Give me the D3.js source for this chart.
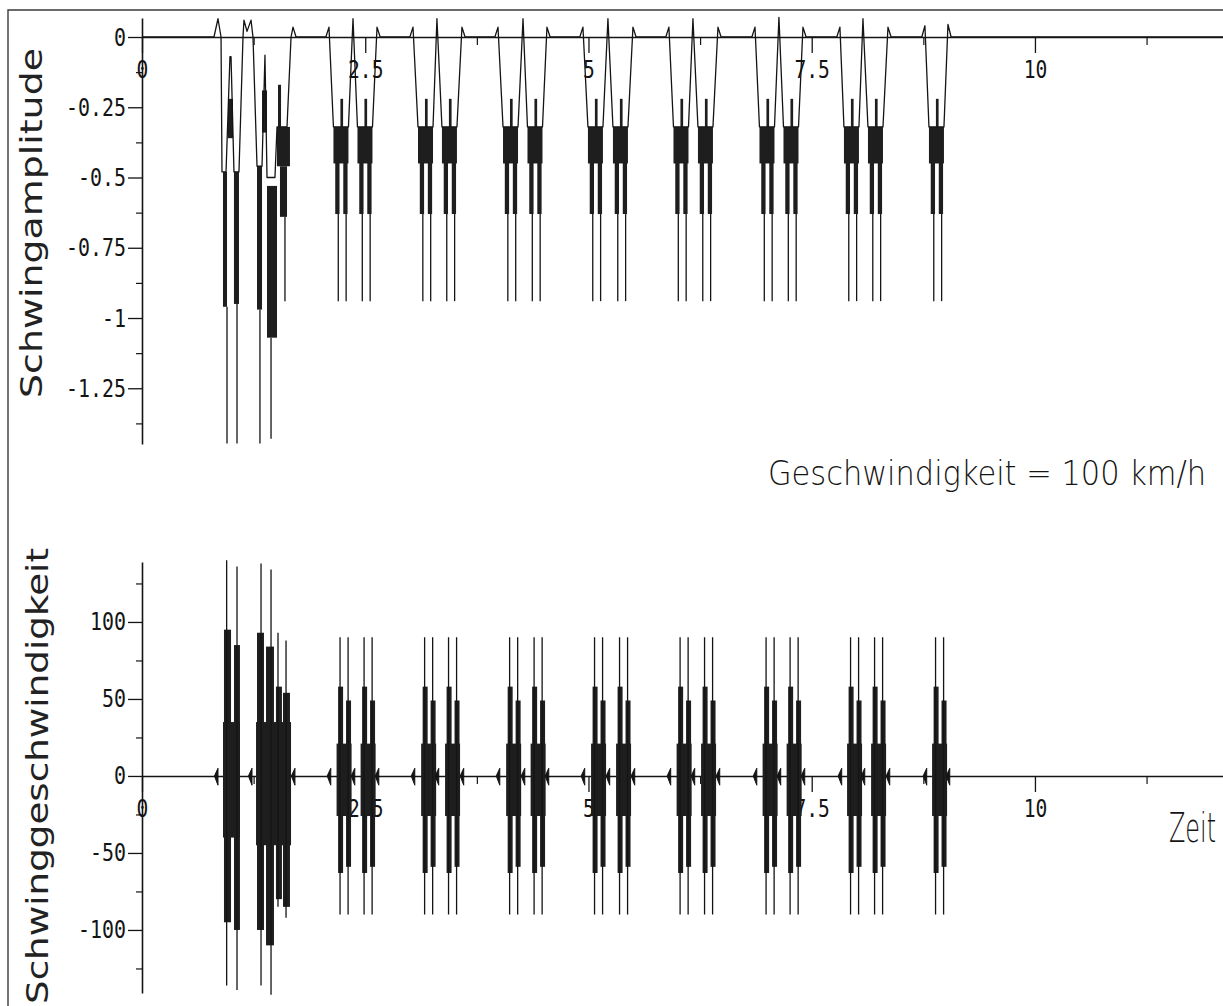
<!DOCTYPE html>
<html><head><meta charset="utf-8">
<script src="https://cdn.jsdelivr.net/npm/d3@7"></script>
<style>body{margin:0;background:#fff}svg{display:block}</style>
</head><body>
<svg id="c" width="1223" height="1006"></svg>
<script>
// ---------- DATA ----------
const xTicksMajor = [0, 2.5, 5, 7.5, 10];
const xTickLabels = ["0", "2.5", "5", "7.5", "10"];
const xTicksMinor = [1.25, 3.75, 6.25, 8.75, 11.25];
const ampTicks = [0, -0.25, -0.5, -0.75, -1, -1.25];
const ampTickLabels = ["0", "-0.25", "-0.5", "-0.75", "-1", "-1.25"];
const ampMinor = [-0.125, -0.375, -0.625, -0.875, -1.125, -1.375];
const velTicks = [100, 50, 0, -50, -100];
const velTickLabels = ["100", "50", "0", "-50", "-100"];
const velMinor = [125, 75, 25, -25, -75, -125];

// Schwingamplitude: first (irregular) group, traced outline [t, value]
const ampStartTrace = [[0.806,0],[0.851,0.065],[0.885,0],[0.896,-0.48],[0.941,-0.48],[0.985,-0.07],[0.997,-0.07],
  [1.030,-0.48],[1.086,-0.48],[1.131,0],[1.142,0.06],[1.176,0.02],[1.221,0.06],[1.243,0],[1.288,-0.46],[1.344,-0.46],
  [1.377,-0.065],[1.400,-0.5],[1.489,-0.5],[1.512,-0.32],[1.624,-0.32],[1.669,0],[1.691,0.035],[1.725,0]];
// dense oscillation regions [t0, t1, vTop, vBottom]
const ampStartBands = [[0.907,0.952,-0.48,-0.96],[0.963,1.019,-0.22,-0.36],[1.030,1.086,-0.48,-0.95],
  [1.288,1.344,-0.46,-0.97],[1.344,1.400,-0.19,-0.34],[1.400,1.512,-0.53,-1.07],[1.512,1.657,-0.32,-0.46],
  [1.523,1.557,-0.17,-0.32],[1.545,1.624,-0.46,-0.64]];
// single extreme strokes [t, vTop, vBottom]
const ampStartLines = [[0.952,-0.96,-1.447],[1.064,-0.95,-1.447],[1.321,-0.97,-1.447],[1.445,-1.07,-1.43],[1.601,-0.64,-0.94]];
// regular groups: peak tips [t, value] and burst centres
const ampPeaks = [[2.094,0.035],[2.363,0.065],[2.632,0.035],[3.035,0.035],[3.303,0.065],[3.583,0.035],
  [3.987,0.035],[4.267,0.065],[4.535,0.035],[4.938,0.035],[5.218,0.065],[5.498,0.035],
  [5.901,0.035],[6.170,0.065],[6.450,0.035],[6.865,0.035],[7.133,0.07],[7.402,0.035],
  [7.816,0.035],[8.074,0.065],[8.354,0.035],[8.768,0.04],[9.026,0.045]];
const ampBlocks = [2.228,2.497,3.175,3.443,4.127,4.401,5.078,5.358,6.036,6.310,6.999,7.268,7.945,8.214,8.897];
const ampSpikeTop = -0.22, ampBandTop = -0.32, ampBandBottom = -0.45, ampLegBottom = -0.63, ampLineBottom = -0.94;

// Schwinggeschwindigkeit
const velStartBands = [[0.907,1.097,35,-40],[0.918,0.997,95,-95],[1.030,1.097,85,-100],[1.277,1.669,35,-45],
  [1.288,1.366,93,-100],[1.389,1.478,84,-110],[1.500,1.567,58,-80],[1.579,1.657,54,-85]];
const velStartLines = [[0.948,140,-136],[1.064,136,-139],[1.333,138,-136],[1.445,134,-142],[1.523,93,-85],[1.613,88,-92]];
const velBlocks = [2.263,2.532,3.210,3.478,4.162,4.436,5.113,5.393,6.071,6.345,7.034,7.303,7.980,8.249,8.932];
const velBlips = [0.851,1.232,1.713,2.114,2.383,2.652,3.055,3.323,3.603,4.007,4.287,4.555,4.958,5.238,5.518,
  5.921,6.190,6.470,6.885,7.153,7.422,7.836,8.094,8.374,8.788,9.046];
const velBandTop = 21, velBandBottom = -26, velLegLTop = 58, velLegLBottom = -63, velLegRTop = 49, velLegRBottom = -59, velSpike = 90;

// ---------- DRAW ----------
const ink = "#141414";
const svg = d3.select("#c");
const x = d3.scaleLinear().domain([0, 12.106]).range([142, 1223]);
const yA = d3.scaleLinear().domain([0.068, -1.448]).range([17.9, 443.9]);
const yV = d3.scaleLinear().domain([139, -141]).range([561.9, 993.1]);
const mono = "'DejaVu Sans Mono', 'Liberation Mono', monospace";
const sans = "'DejaVu Sans', 'Noto Sans', sans-serif";

// frame
svg.append("path").attr("d", "M8,1006V10H1223").attr("fill", "none").attr("stroke", "#3a3a3a").attr("stroke-width", 1.4);

function styleAxis(g, charW) {
  g.select(".domain").attr("stroke", ink).attr("stroke-width", 1.6);
  g.selectAll(".tick line").attr("stroke", ink).attr("stroke-width", 1.3);
  g.selectAll(".tick text").attr("fill", ink).style("font-family", mono).style("font-size", "25px")
    .attr("textLength", function () { return this.textContent.length * charW; })
    .attr("lengthAdjust", "spacingAndGlyphs");
}

function panel(y, ticks, labels, minor) {
  const gx = svg.append("g").attr("transform", `translate(0,${y(0)})`)
    .call(d3.axisBottom(x).tickValues(xTicksMajor).tickSizeInner(16).tickSizeOuter(0).tickPadding(7)
      .tickFormat((d, i) => xTickLabels[i]));
  styleAxis(gx, 11.8);
  gx.selectAll(".tick text").attr("dy", "0.71em");
  const gxm = svg.append("g").attr("transform", `translate(0,${y(0)})`)
    .call(d3.axisBottom(x).tickValues(xTicksMinor).tickSizeInner(8).tickSizeOuter(0).tickFormat(""));
  gxm.select(".domain").remove();
  gxm.selectAll(".tick line").attr("stroke", ink).attr("stroke-width", 1.2);
  const gy = svg.append("g").attr("transform", "translate(142,0)")
    .call(d3.axisLeft(y).tickValues(ticks).tickSizeInner(14).tickSizeOuter(0).tickPadding(2)
      .tickFormat((d, i) => labels[i]));
  styleAxis(gy, 12);
  const gym = svg.append("g").attr("transform", "translate(142,0)")
    .call(d3.axisLeft(y).tickValues(minor).tickSizeInner(6).tickSizeOuter(0).tickFormat(""));
  gym.select(".domain").remove();
  gym.selectAll(".tick line").attr("stroke", ink).attr("stroke-width", 1.2);
}
panel(yA, ampTicks, ampTickLabels, ampMinor);
panel(yV, velTicks, velTickLabels, velMinor);

// ---- amplitude trace ----
const events = ampPeaks.map(p => ({ t: p[0], v: p[1], k: "p" }))
  .concat(ampBlocks.map(c => ({ t: c, k: "b" }))).sort((a, b) => a.t - b.t);
const ampTrace = [[0, 0]].concat(ampStartTrace);
events.forEach((e, i) => {
  const prev = events[i - 1], next = events[i + 1];
  if (e.k === "p") {
    if (!prev || prev.k === "p") ampTrace.push([e.t - 0.035, 0]);
    ampTrace.push([e.t, e.v]);
    if (!next || next.k === "p") ampTrace.push([e.t + 0.035, 0]);
  } else {
    ampTrace.push([e.t - 0.084, ampBandTop], [e.t + 0.084, ampBandTop]);
  }
});
ampTrace.push([12.106, 0]);

const ampBands = ampStartBands.slice();
const ampLines = ampStartLines.slice();
ampBlocks.forEach(c => {
  ampBands.push([c - 0.084, c + 0.084, ampBandTop, ampBandBottom]);
  ampBands.push([c - 0.064, c - 0.016, ampBandBottom + 0.02, ampLegBottom]);
  ampBands.push([c + 0.026, c + 0.074, ampBandBottom + 0.02, ampLegBottom]);
  ampBands.push([c - 0.006, c + 0.024, ampSpikeTop, ampBandTop]);
  ampLines.push([c - 0.03, ampLegBottom, ampLineBottom]);
  ampLines.push([c + 0.058, ampLegBottom, ampLineBottom]);
});

function drawBands(bands, y) {
  svg.append("g").selectAll("rect").data(bands).join("rect")
    .attr("x", d => x(d[0])).attr("width", d => x(d[1]) - x(d[0]))
    .attr("y", d => y(d[2])).attr("height", d => y(d[3]) - y(d[2]))
    .attr("fill", "#1e1e1e");
}
function drawLines(lines, y) {
  svg.append("g").selectAll("line").data(lines).join("line")
    .attr("x1", d => x(d[0])).attr("x2", d => x(d[0]))
    .attr("y1", d => y(d[1])).attr("y2", d => y(d[2]))
    .attr("stroke", ink).attr("stroke-width", 1.3);
}
drawBands(ampBands, yA);
drawLines(ampLines, yA);
svg.append("path").datum(ampTrace)
  .attr("d", d3.line().x(d => x(d[0])).y(d => yA(d[1])))
  .attr("fill", "none").attr("stroke", ink).attr("stroke-width", 1.3).attr("stroke-linejoin", "round");

// ---- velocity ----
const velBands = velStartBands.slice();
const velLines = velStartLines.slice();
velBlocks.forEach(c => {
  velBands.push([c - 0.084, c + 0.084, velBandTop, velBandBottom]);
  velBands.push([c - 0.067, c - 0.011, velLegLTop, velLegLBottom]);
  velBands.push([c + 0.022, c + 0.078, velLegRTop, velLegRBottom]);
  velLines.push([c - 0.045, velSpike, -velSpike]);
  velLines.push([c + 0.045, velSpike, -velSpike]);
});
drawBands(velBands, yV);
drawLines(velLines, yV);
svg.append("g").selectAll("path").data(velBlips).join("path")
  .attr("d", t => `M${x(t - 0.04)},${yV(0)}L${x(t)},${yV(5)}L${x(t)},${yV(-6)}Z`)
  .attr("fill", ink).attr("stroke", ink).attr("stroke-width", 1);

// ---- texts ----
svg.append("text").attr("transform", "translate(42,398) rotate(-90)")
  .attr("textLength", 350).attr("lengthAdjust", "spacingAndGlyphs")
  .style("font-family", sans).style("font-size", "30px").attr("fill", "#222").text("Schwingamplitude");
svg.append("text").attr("transform", "translate(48,1004) rotate(-90)")
  .attr("textLength", 456).attr("lengthAdjust", "spacingAndGlyphs")
  .style("font-family", sans).style("font-size", "30px").attr("fill", "#222").text("Schwinggeschwindigkeit");
svg.append("text").attr("x", 768).attr("y", 485)
  .attr("textLength", 438).attr("lengthAdjust", "spacingAndGlyphs")
  .style("font-family", sans).style("font-size", "33px").style("font-weight", 300).attr("fill", ink).text("Geschwindigkeit = 100 km/h");
svg.append("text").attr("x", 1169).attr("y", 842)
  .attr("textLength", 47).attr("lengthAdjust", "spacingAndGlyphs")
  .style("font-family", sans).style("font-size", "40px").style("font-weight", 300).attr("fill", ink).text("Zeit");
</script>
</body></html>
